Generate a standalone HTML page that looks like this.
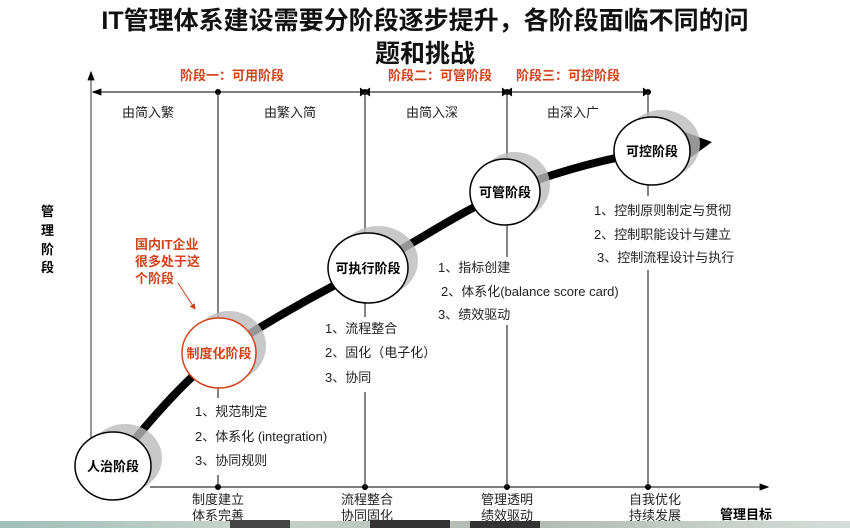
<!DOCTYPE html>
<html><head><meta charset="utf-8"><style>
html,body{margin:0;padding:0;background:#fff;}
svg{display:block;font-family:"Liberation Sans","Noto Sans CJK SC",sans-serif;}
.t{font-size:13px;fill:#222;}
.b{font-weight:bold;font-size:13px;fill:#000;}
.r{font-weight:bold;font-size:13px;fill:#d2421a;}
</style></head><body>
<svg width="850" height="528" viewBox="0 0 850 528" xmlns="http://www.w3.org/2000/svg">
<defs>
<marker id="ah" markerWidth="8" markerHeight="8" refX="7" refY="4" orient="auto"><path d="M0,1 L8,4 L0,7 z" fill="#000"/></marker>
<marker id="ahs" markerWidth="8" markerHeight="8" refX="1" refY="4" orient="auto"><path d="M8,1 L0,4 L8,7 z" fill="#000"/></marker>
<marker id="ar" markerWidth="6" markerHeight="6" refX="5" refY="3" orient="auto"><path d="M0,0 L6,3 L0,6 z" fill="#d2421a"/></marker>
</defs>
<text x="425" y="29" text-anchor="middle" font-size="25" font-weight="bold" fill="#111">IT管理体系建设需要分阶段逐步提升，各阶段面临不同的问</text>
<text x="425" y="62" text-anchor="middle" font-size="25" font-weight="bold" fill="#111">题和挑战</text>
<text x="232" y="80" text-anchor="middle" class="r" font-size="12">阶段一：可用阶段</text>
<text x="440" y="80" text-anchor="middle" class="r" font-size="12">阶段二：可管阶段</text>
<text x="568" y="80" text-anchor="middle" class="r" font-size="12">阶段三：可控阶段</text>
<!-- axes -->
<line x1="91" y1="487" x2="91" y2="72" stroke="#555" stroke-width="1.2" marker-end="url(#ah)"/>
<line x1="150" y1="487" x2="768" y2="487" stroke="#333" stroke-width="1.2" marker-end="url(#ah)"/>
<line x1="93" y1="92" x2="648" y2="92" stroke="#333" stroke-width="1.2" marker-start="url(#ahs)"/>
<g fill="#000"><circle cx="218" cy="92" r="3"/><circle cx="365" cy="92" r="3"/><circle cx="507" cy="92" r="3"/><circle cx="648" cy="92" r="3"/>
<circle cx="218" cy="487" r="3"/><circle cx="365" cy="487" r="3"/><circle cx="507" cy="487" r="3"/><circle cx="648" cy="487" r="3"/></g>
<g stroke="#000" stroke-width="1"><path d="M360,88 L365,92 L360,96 M370,88 L365,92 L370,96 M502,88 L507,92 L502,96 M512,88 L507,92 L512,96 M643,88 L648,92 L643,96"/></g>
<text x="148" y="117" text-anchor="middle" class="t" font-size="12">由简入繁</text>
<text x="290" y="117" text-anchor="middle" class="t" font-size="12">由繁入简</text>
<text x="432" y="117" text-anchor="middle" class="t" font-size="12">由简入深</text>
<text x="573" y="117" text-anchor="middle" class="t" font-size="12">由深入广</text>
<g stroke="#333" stroke-width="1.2">
<line x1="218" y1="92" x2="218" y2="320"/><line x1="218" y1="386" x2="218" y2="398"/><line x1="218" y1="475" x2="218" y2="487"/>
<line x1="365" y1="92" x2="365" y2="235"/><line x1="365" y1="300" x2="365" y2="317"/><line x1="365" y1="392" x2="365" y2="487"/>
<line x1="507" y1="92" x2="507" y2="160"/><line x1="507" y1="224" x2="507" y2="257"/><line x1="507" y1="325" x2="507" y2="487"/>
<line x1="648" y1="92" x2="648" y2="118"/><line x1="648" y1="184" x2="648" y2="196"/><line x1="648" y1="270" x2="648" y2="487"/>
</g>
<!-- curve -->
<path d="M113,466 C150,420 180,385 219,353 C270,320 320,292 368,268 C420,240 460,212 505,192 C560,170 610,158 652,151 L690,145" fill="none" stroke="#000" stroke-width="8"/>
<path d="M685,132 L712,142 L690,158 z" fill="#000"/>
<!-- shadows -->
<g fill="#bbb" opacity="0.8">
<ellipse cx="125" cy="458" rx="37" ry="34"/><ellipse cx="229" cy="346" rx="37" ry="35"/>
<ellipse cx="378" cy="261" rx="40" ry="35"/><ellipse cx="515" cy="185" rx="35" ry="33"/><ellipse cx="662" cy="144" rx="38" ry="34"/>
</g>
<g fill="#fff" stroke="#000" stroke-width="1.5">
<ellipse cx="113" cy="466" rx="38" ry="34"/>
<ellipse cx="219" cy="353" rx="37" ry="35" stroke="#d2421a"/>
<ellipse cx="368" cy="268" rx="40" ry="35"/>
<ellipse cx="505" cy="192" rx="35" ry="33"/>
<ellipse cx="652" cy="151" rx="38" ry="34"/>
</g>
<text x="113" y="471" text-anchor="middle" class="b">人治阶段</text>
<text x="219" y="358" text-anchor="middle" class="r">制度化阶段</text>
<text x="368" y="273" text-anchor="middle" class="b">可执行阶段</text>
<text x="505" y="197" text-anchor="middle" class="b">可管阶段</text>
<text x="652" y="156" text-anchor="middle" class="b">可控阶段</text>
<g class="b" font-size="12"><text x="41" y="216">管</text><text x="41" y="235">理</text><text x="41" y="254">阶</text><text x="41" y="272">段</text></g>
<text x="135" y="249" class="r" font-size="12">国内IT企业</text>
<text x="135" y="266" class="r" font-size="12">很多处于这</text>
<text x="135" y="283" class="r" font-size="12">个阶段</text>
<line x1="178" y1="283" x2="195" y2="309" stroke="#d2421a" stroke-width="1" marker-end="url(#ar)"/>
<g class="t">
<text x="195" y="416">1、规范制定</text><text x="195" y="441">2、体系化 (integration)</text><text x="195" y="465">3、协同规则</text>
<text x="325" y="333">1、流程整合</text><text x="325" y="357">2、固化（电子化）</text><text x="325" y="382">3、协同</text>
<text x="438" y="272">1、指标创建</text><text x="441" y="296">2、体系化(balance score card)</text><text x="438" y="319">3、绩效驱动</text>
<text x="594" y="215">1、控制原则制定与贯彻</text><text x="594" y="239">2、控制职能设计与建立</text><text x="597" y="262">3、控制流程设计与执行</text>
</g>
<g class="t" font-size="12" text-anchor="middle">
<text x="218" y="504">制度建立</text><text x="218" y="520">体系完善</text>
<text x="367" y="504">流程整合</text><text x="367" y="520">协同固化</text>
<text x="507" y="504">管理透明</text><text x="507" y="520">绩效驱动</text>
<text x="655" y="504">自我优化</text><text x="655" y="520">持续发展</text>
</g>
<text x="720" y="519" class="b" font-size="12">管理目标</text>
<defs><linearGradient id="g" x1="0" x2="1"><stop offset="0" stop-color="#9fbfb8"/><stop offset="0.3" stop-color="#c8d4cc"/><stop offset="0.6" stop-color="#b0b8b0"/><stop offset="1" stop-color="#d6ddd8"/></linearGradient></defs>
<rect x="0" y="521" width="850" height="7" fill="url(#g)"/>
<rect x="230" y="520" width="60" height="8" fill="#444"/><rect x="370" y="520" width="80" height="8" fill="#333"/><rect x="470" y="521" width="70" height="7" fill="#333"/>
</svg>
</body></html>
